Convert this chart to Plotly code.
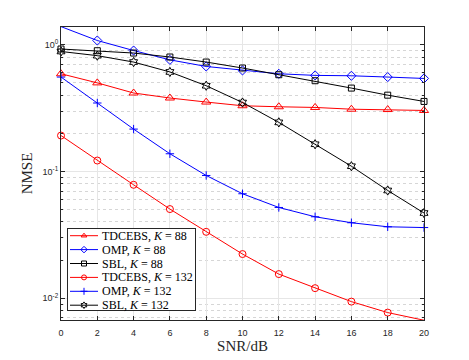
import plotly.graph_objects as go

snr = [0, 2, 4, 6, 8, 10, 12, 14, 16, 18, 20]

tdcebs_88 = [0.59, 0.50, 0.416, 0.38, 0.353, 0.33, 0.324, 0.32, 0.31, 0.308, 0.303]
omp_88 = [1.39, 1.08, 0.90, 0.76, 0.674, 0.627, 0.59, 0.573, 0.569, 0.556, 0.542]
sbl_88 = [0.925, 0.897, 0.86, 0.80, 0.73, 0.655, 0.58, 0.52, 0.455, 0.40, 0.357]
tdcebs_132 = [0.192, 0.122, 0.0785, 0.0505, 0.0334, 0.0223, 0.0155, 0.0120, 0.0094, 0.0077, 0.0067]
omp_132 = [0.556, 0.347, 0.216, 0.138, 0.093, 0.0667, 0.052, 0.0439, 0.0394, 0.0366, 0.0361]
sbl_132 = [0.885, 0.82, 0.73, 0.61, 0.475, 0.35, 0.244, 0.164, 0.11, 0.0708, 0.047]

ytick_vals = [0.01, 0.1, 1]
ytick_text = ["10<sup>-2</sup>", "10<sup>-1</sup>", "10<sup>0</sup>"]

series = [
    ("TDCEBS, <i>K</i> = 88", tdcebs_88, "#FF0000", "triangle-up-open", 8),
    ("OMP, <i>K</i> = 88", omp_88, "#0000FF", "diamond-open", 7),
    ("SBL, <i>K</i> = 88", sbl_88, "#000000", "square-open", 6),
    ("TDCEBS, <i>K</i> = 132", tdcebs_132, "#FF0000", "circle-open", 7),
    ("OMP, <i>K</i> = 132", omp_132, "#0000FF", "cross-thin-open", 6),
    ("SBL, <i>K</i> = 132", sbl_132, "#000000", "hexagram-open", 7),
]

serif = "Liberation Serif, DejaVu Serif, serif"
dark = "#262626"

fig = go.Figure()
for name, vals, color, sym, size in series:
    fig.add_trace(go.Scatter(
        x=snr, y=vals, name=name, mode="lines+markers", showlegend=False,
        line=dict(color=color, width=1),
        marker=dict(symbol=sym, size=size, color=color, line=dict(color=color, width=1)),
        cliponaxis=False,
    ))

# hand-made legend in an inset subplot (box 127 x 81 px)
row_gap = 13.9
for i, (name, vals, color, sym, size) in enumerate(series):
    yc = 6.7 + i * row_gap
    fig.add_trace(go.Scatter(
        x=[2, 30], y=[yc, yc], mode="lines", showlegend=False,
        xaxis="x2", yaxis="y2", hoverinfo="skip",
        line=dict(color=color, width=1),
    ))
    fig.add_trace(go.Scatter(
        x=[16], y=[yc], mode="markers", showlegend=False,
        xaxis="x2", yaxis="y2", hoverinfo="skip",
        marker=dict(symbol=sym, size=5, color=color, line=dict(color=color, width=1)),
    ))
    fig.add_annotation(
        x=32, y=yc, xref="x2", yref="y2", text=name, showarrow=False,
        xanchor="left", yanchor="middle",
        font=dict(family=serif, size=12, color="black"),
    )

axis_common = dict(
    showline=True, linecolor=dark, linewidth=1, mirror="ticks",
    ticks="inside", ticklen=4, tickcolor=dark, automargin=False,
    showgrid=True, gridcolor="#E6E6E6", gridwidth=1, zeroline=False,
    tickfont=dict(family="Liberation Sans, Arial", size=9, color=dark),
)

# page body has an 8px margin, so the figure is sized/shifted to compensate
fig.update_layout(
    width=461, height=352,
    margin=dict(l=53, r=45, t=19, b=40),
    paper_bgcolor="white", plot_bgcolor="white",
    showlegend=False,
    xaxis=dict(
        range=[0, 20], tickvals=snr, domain=[0, 1],
        ticklabelstandoff=4,
        title=dict(text="SNR/dB", font=dict(family=serif, size=15, color=dark), standoff=2),
        **axis_common,
    ),
    yaxis=dict(
        type="log", range=[-2.172, 0.14], domain=[0, 1],
        tickvals=ytick_vals, ticktext=ytick_text,
        minor=dict(tickvals=[v * m for v in [0.001, 0.01, 0.1, 1] for m in range(2, 10)],
                   ticks="inside", ticklen=2, tickcolor=dark,
                   showgrid=True, gridcolor="#D6D6D6", griddash="dot", gridwidth=1),
        title=dict(text="NMSE", font=dict(family=serif, size=15, color=dark), standoff=6),
        **axis_common,
    ),
    xaxis2=dict(
        domain=[7 / 363, 134 / 363], anchor="y2", range=[0, 127],
        showline=True, mirror=True, linecolor=dark, linewidth=1,
        showgrid=False, zeroline=False, showticklabels=False, ticks="", fixedrange=True,
    ),
    yaxis2=dict(
        domain=[10 / 293, 91 / 293], anchor="x2", range=[81, 0],
        showline=True, mirror=True, linecolor=dark, linewidth=1,
        showgrid=False, zeroline=False, showticklabels=False, ticks="", fixedrange=True,
    ),
)

fig.write_html("out.html")
